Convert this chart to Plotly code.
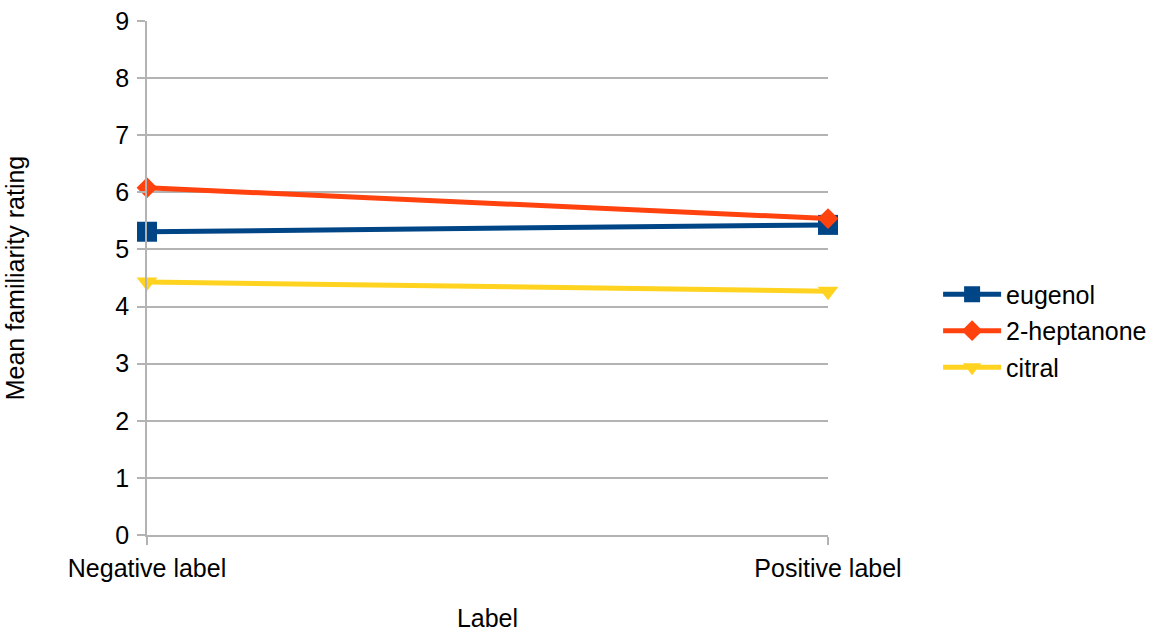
import plotly.graph_objects as go

# Mean familiarity ratings per odour, for each label condition
categories = ["Negative label", "Positive label"]
eugenol = [5.31, 5.43]
heptanone = [6.08, 5.54]
citral = [4.43, 4.27]
y_ticks = list(range(0, 10))

FONT = "Liberation Sans, Arial, sans-serif"
GRID = "#b3b3b3"
SIZE = 25

# name, values, colour, marker symbol, marker size
series = [
    ("eugenol", eugenol, "#004586", "square", 20),
    ("2-heptanone", heptanone, "#ff420e", "diamond", 16),
    ("citral", citral, "#ffd320", "triangle-down", 18),
]

xpos = list(range(len(categories)))

fig = go.Figure()
for name, vals, color, symbol, msize in series:
    fig.add_trace(go.Scatter(
        x=xpos, y=vals, name=name, legendgroup=name, mode="lines+markers",
        line=dict(color=color, width=5),
        marker=dict(symbol=symbol, size=msize, color=color),
        cliponaxis=False,
    ))

fig.update_layout(
    width=1156, height=632,
    margin=dict(l=147, r=328, t=21, b=97, autoexpand=False),
    paper_bgcolor="white", plot_bgcolor="white",
    font=dict(family=FONT, size=SIZE, color="#000000"),
    showlegend=True,
    legend=dict(
        xref="container", x=0.8115, xanchor="left",
        y=0.397, yanchor="middle",
        font=dict(size=SIZE), bgcolor="rgba(0,0,0,0)",
        itemwidth=58, tracegroupgap=1,
    ),
)

fig.update_xaxes(
    range=[0, 1], tickvals=xpos, ticktext=categories,
    showgrid=True, gridcolor=GRID, gridwidth=1.5,
    showline=True, linecolor=GRID, linewidth=1.5,
    ticks="outside", ticklen=8, tickcolor=GRID, tickwidth=1.5,
    ticklabelstandoff=2,
    zeroline=False, automargin=False,
    title=dict(text="Label", font=dict(size=SIZE), standoff=29),
)
fig.update_yaxes(
    range=[0, 9], tickvals=y_ticks,
    showgrid=True, gridcolor=GRID, gridwidth=1.5,
    showline=True, linecolor=GRID, linewidth=1.5,
    ticks="outside", ticklen=8, tickcolor=GRID, tickwidth=1.5,
    ticklabelstandoff=3,
    zeroline=False, automargin=False,
    title=dict(text="Mean familiarity rating", font=dict(size=SIZE), standoff=84),
)

fig.write_html("out.html")
